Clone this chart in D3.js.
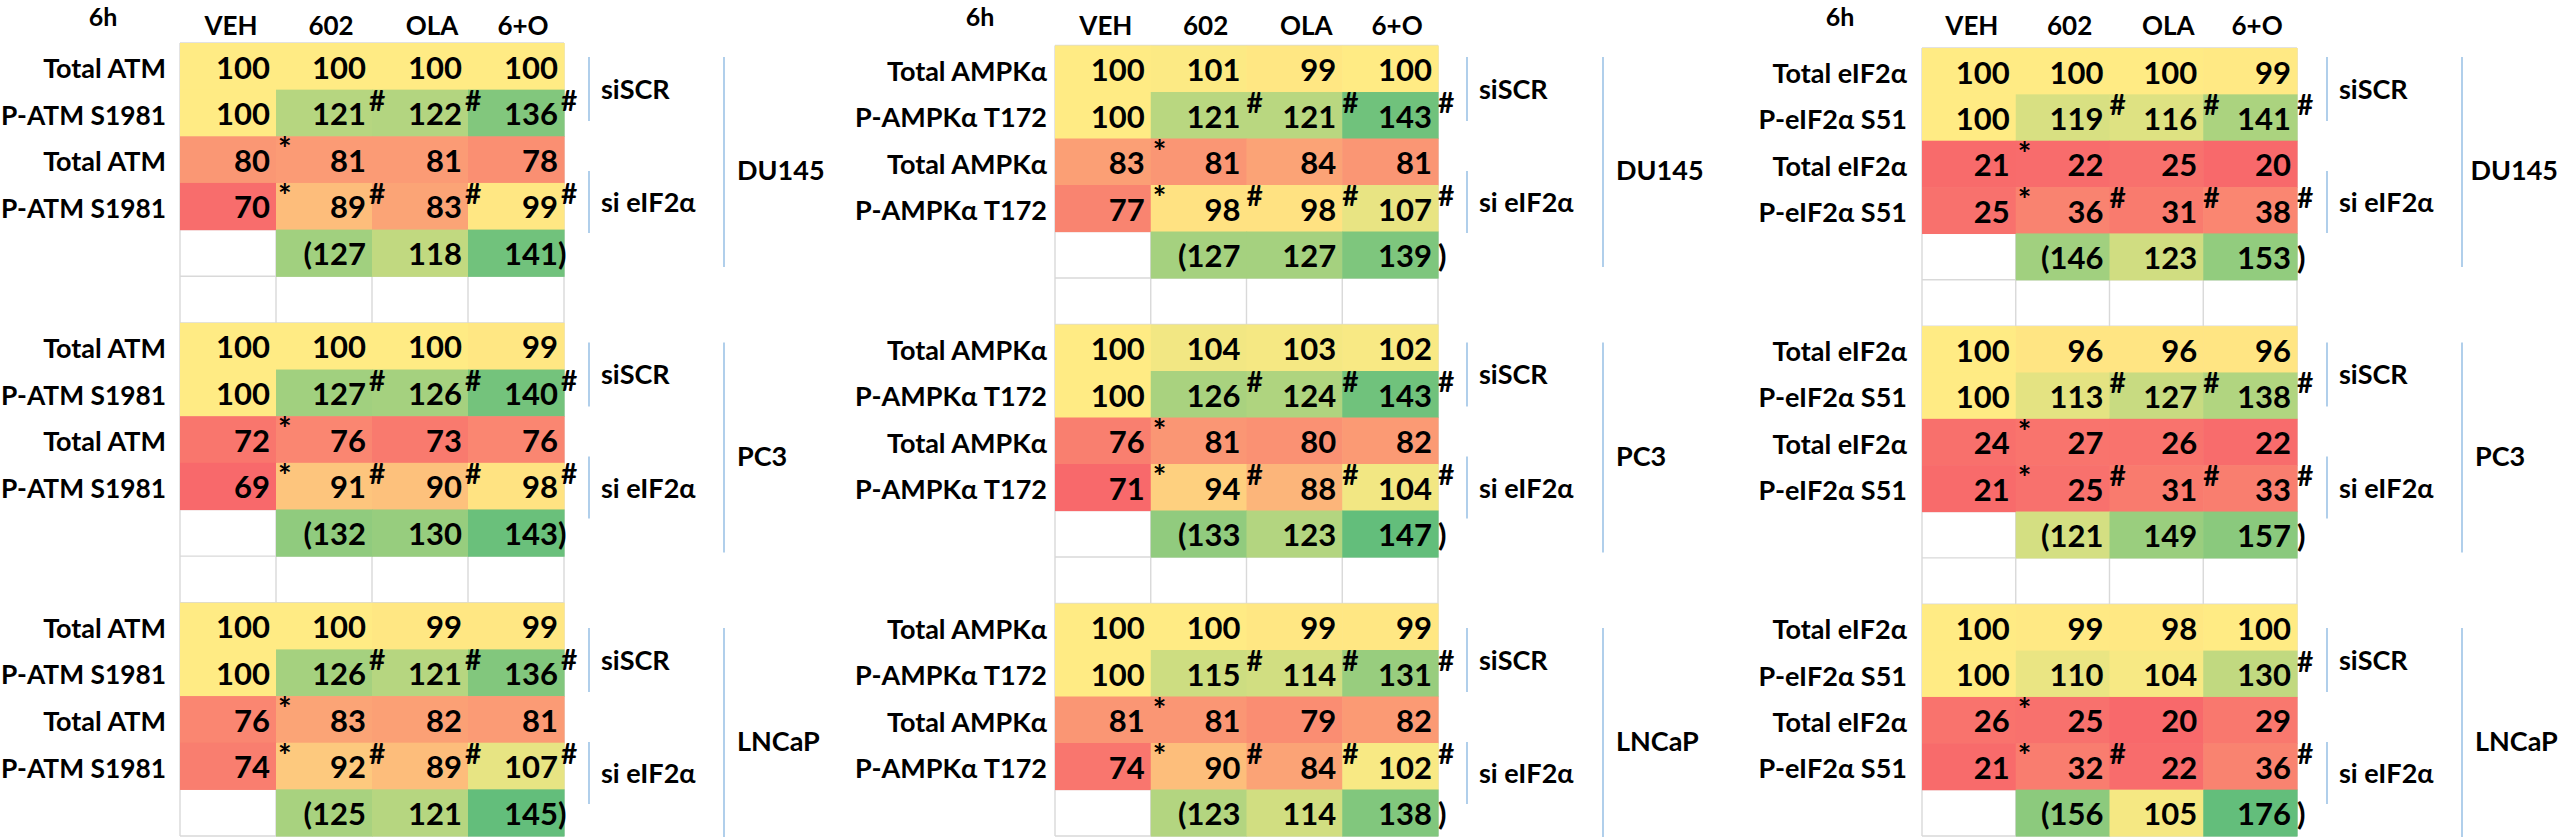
<!DOCTYPE html>
<html>
<head>
<meta charset="utf-8">
<script src="https://cdn.jsdelivr.net/npm/d3@7"></script>
<style>
  html, body { margin: 0; padding: 0; background: #fff; }
  svg { display: block; font-family: Lato, "Noto Sans", "DejaVu Sans", sans-serif; font-weight: 700; }
</style>
</head>
<body>
<div id="chart"></div>
<script>
// Densitometry heat tables, 6h, three cell lines, siSCR vs si eIF2α.

const timeLabel = '6h';
const treatments = ['VEH', '602', 'OLA', '6+O'];
const cellLines = ['DU145', 'PC3', 'LNCaP'];
const knockdowns = ['siSCR', 'si eIF2α'];

const atmRows = ['Total ATM', 'P-ATM S1981', 'Total ATM', 'P-ATM S1981'];
const ampkRows = ['Total AMPKα', 'P-AMPKα T172', 'Total AMPKα', 'P-AMPKα T172'];
const eifRows = ['Total eIF2α', 'P-eIF2α S51', 'Total eIF2α', 'P-eIF2α S51'];

// per cell line: 4 measured rows, then the bracketed row (no VEH value)
const atmValues = [
  [[100, 100, 100, 100], [100, 121, 122, 136], [80, 81, 81, 78], [70, 89, 83, 99], [null, 127, 118, 141]],
  [[100, 100, 100, 99], [100, 127, 126, 140], [72, 76, 73, 76], [69, 91, 90, 98], [null, 132, 130, 143]],
  [[100, 100, 99, 99], [100, 126, 121, 136], [76, 83, 82, 81], [74, 92, 89, 107], [null, 125, 121, 145]],
];
const ampkValues = [
  [[100, 101, 99, 100], [100, 121, 121, 143], [83, 81, 84, 81], [77, 98, 98, 107], [null, 127, 127, 139]],
  [[100, 104, 103, 102], [100, 126, 124, 143], [76, 81, 80, 82], [71, 94, 88, 104], [null, 133, 123, 147]],
  [[100, 100, 99, 99], [100, 115, 114, 131], [81, 81, 79, 82], [74, 90, 84, 102], [null, 123, 114, 138]],
];
const eifValues = [
  [[100, 100, 100, 99], [100, 119, 116, 141], [21, 22, 25, 20], [25, 36, 31, 38], [null, 146, 123, 153]],
  [[100, 96, 96, 96], [100, 113, 127, 138], [24, 27, 26, 22], [21, 25, 31, 33], [null, 121, 149, 157]],
  [[100, 99, 98, 100], [100, 110, 104, 130], [26, 25, 20, 29], [21, 32, 22, 36], [null, 156, 105, 176]],
];

// significance marks written after each value
const stdMarks = [['', '', '', ''], ['', '#', '#', '#'], ['*', '', '', ''], ['*', '#', '#', '#']];
const atmMarks = [stdMarks, stdMarks, stdMarks];
const ampkMarks = [stdMarks, stdMarks, stdMarks];
const eifMarks = [
  stdMarks,
  stdMarks,
  [['', '', '', ''], ['', '', '', '#'], ['*', '', '', ''], ['*', '#', '', '#']],
];

const panels = [
  { rows: atmRows, values: atmValues, marks: atmMarks },
  { rows: ampkRows, values: ampkValues, marks: ampkMarks },
  { rows: eifRows, values: eifValues, marks: eifMarks },
];

// ---- layout (pixel positions measured off the sheet) ----
const W = 2559, H = 837, BOTTOM = 836;
const layouts = [
  { top: 43, left: 180, right: 564, labelRight: 166, hourX: 103, siX: 589, lineX: 724, markDx: -3, closeDx: -6 },
  { top: 45.5, left: 1055, right: 1438, labelRight: 1047, hourX: 980, siX: 1467, lineX: 1603, markDx: 0, closeDx: 0 },
  { top: 48, left: 1922, right: 2297, labelRight: 1907, hourX: 1840, siX: 2327, lineX: 2462, markDx: 0, closeDx: 0 },
];
const headNudge = [3, 7, 12, 7];
const BLOCK_STEP = 285.5; // side labels run on their own spacing
const GRID = '#d9d9d9', RULE = '#9dc3e6', INK = '#000';

const svg = d3.select('#chart').append('svg')
  .attr('width', W).attr('height', H).attr('viewBox', `0 0 ${W} ${H}`);
svg.append('rect').attr('width', W).attr('height', H).attr('fill', '#fff');

panels.forEach((p, pi) => {
  const L = layouts[pi];
  const g = svg.append('g');
  const x = d3.scaleBand().domain(treatments).range([L.left, L.right]);
  const nRows = cellLines.length * 6 - 1;
  const y = d3.scaleBand().domain(d3.range(nRows)).range([L.top, BOTTOM]);
  const bw = x.bandwidth(), bh = y.bandwidth();

  const all = p.values.flat(2).filter((v) => v != null);
  const color = d3.scaleLinear()
    .domain([d3.min(all), 100, d3.max(all)])
    .range(['#f8696b', '#ffeb84', '#63be7b'])
    .interpolate(d3.interpolateRgb);

  // gridlines (only show through white cells)
  const edgesX = treatments.map((t) => x(t)).concat([L.right]);
  g.selectAll('line.gv').data(edgesX).join('line')
    .attr('x1', (d) => d).attr('x2', (d) => d).attr('y1', L.top).attr('y2', BOTTOM)
    .attr('stroke', GRID).attr('stroke-width', 1.4);
  const edgesY = d3.range(nRows).map((i) => y(i)).concat([BOTTOM]);
  g.selectAll('line.gh').data(edgesY).join('line')
    .attr('x1', L.left).attr('x2', L.right).attr('y1', (d) => d).attr('y2', (d) => d)
    .attr('stroke', GRID).attr('stroke-width', 1.4);

  // header
  g.append('text').attr('x', L.hourX).attr('y', 26).attr('text-anchor', 'middle')
    .attr('font-size', 25).attr('fill', INK).text(timeLabel);
  g.selectAll('text.head').data(treatments).join('text')
    .attr('x', (d, i) => x(d) + bw / 2 + headNudge[i]).attr('y', 35)
    .attr('text-anchor', 'middle').attr('font-size', 26).attr('fill', INK).text((d) => d);

  // cells
  const cells = [];
  p.values.forEach((block, b) => {
    block.forEach((row, r) => {
      row.forEach((v, c) => {
        if (v == null) return;
        cells.push({ b, r, c, v, row: b * 6 + r, mark: r < 4 ? p.marks[b][r][c] : '' });
      });
    });
  });
  g.selectAll('rect.cell').data(cells).join('rect')
    .attr('x', (d) => x(treatments[d.c])).attr('y', (d) => y(d.row))
    .attr('width', bw + 0.6).attr('height', bh + 0.6)
    .attr('fill', (d) => color(d.v));

  // row labels — shrink a label only if it would run off the left edge
  cellLines.forEach((cl, b) => {
    g.selectAll(null).data(p.rows).join('text')
      .attr('x', L.labelRight).attr('y', (d, r) => y(b * 6 + r) + 35)
      .attr('text-anchor', 'end').attr('font-size', 27).attr('fill', INK).text((d) => d)
      .each(function () {
        const len = this.getComputedTextLength();
        if (len > L.labelRight - 1) d3.select(this).attr('font-size', 27 * (L.labelRight - 1) / len);
      });
  });

  // values
  g.selectAll('text.val').data(cells).join('text')
    .attr('x', (d) => x(treatments[d.c]) + bw - 6).attr('y', (d) => y(d.row) + 35.5)
    .attr('text-anchor', 'end').attr('font-size', 31).attr('fill', INK)
    .text((d) => (d.r === 4 && d.c === 1 ? `(${d.v}` : d.v));
  g.selectAll('text.close').data(cells.filter((d) => d.r === 4 && d.c === treatments.length - 1)).join('text')
    .attr('x', (d) => x(treatments[d.c]) + bw + L.closeDx).attr('y', (d) => y(d.row) + 35.5)
    .attr('font-size', 31).attr('fill', INK).text(')');

  // marks
  g.selectAll('text.mark').data(cells.filter((d) => d.mark)).join('text')
    .attr('x', (d) => x(treatments[d.c]) + bw + (d.mark === '*' ? 2 : L.markDx))
    .attr('y', (d) => y(d.row) + (d.mark === '*' ? 25 : 21))
    .attr('font-size', (d) => (d.mark === '*' ? 32 : 28)).attr('fill', INK).text((d) => d.mark);

  // side labels
  cellLines.forEach((cl, b) => {
    const off = b * BLOCK_STEP;
    const scrC = 89 + off, eifC = 202 + off;
    g.append('line').attr('x1', L.siX).attr('x2', L.siX).attr('y1', scrC - 32).attr('y2', scrC + 32)
      .attr('stroke', RULE).attr('stroke-width', 1.6);
    g.append('line').attr('x1', L.siX).attr('x2', L.siX).attr('y1', eifC - 31).attr('y2', eifC + 31)
      .attr('stroke', RULE).attr('stroke-width', 1.6);
    g.append('text').attr('x', L.siX + 12).attr('y', scrC + 9.5)
      .attr('font-size', 27).attr('fill', INK).text(knockdowns[0]);
    g.append('text').attr('x', L.siX + 12).attr('y', eifC + 10)
      .attr('font-size', 27).attr('fill', INK).text(knockdowns[1]);
    g.append('line').attr('x1', L.lineX).attr('x2', L.lineX).attr('y1', scrC - 32).attr('y2', eifC + 65)
      .attr('stroke', RULE).attr('stroke-width', 1.6);
    g.append('text').attr('x', L.lineX + 13).attr('y', 180 + off)
      .attr('font-size', 27).attr('fill', INK).text(cl)
      .each(function () {
        const len = this.getComputedTextLength();
        if (L.lineX + 13 + len > W - 1) d3.select(this).attr('x', Math.max(L.lineX + 4, W - 1 - len));
      });
  });
});
</script>
</body>
</html>
